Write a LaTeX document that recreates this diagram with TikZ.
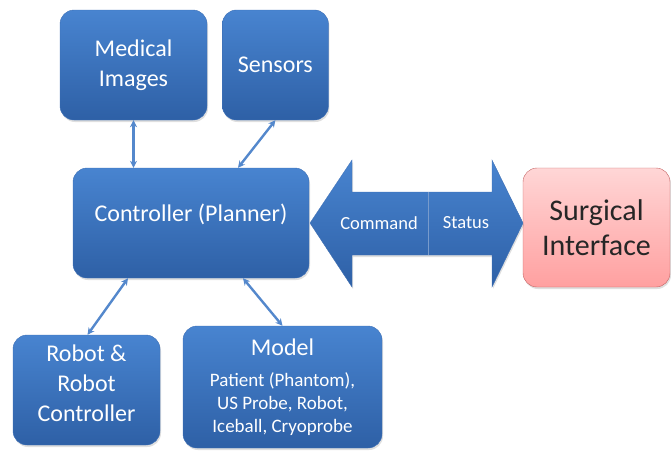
\documentclass[tikz,border=0pt]{standalone}
\usepackage{fontspec}
\setmainfont{Carlito}
\usetikzlibrary{positioning,arrows.meta,calc,shadows}

\definecolor{boxtop}{RGB}{72,132,208}
\definecolor{boxbot}{RGB}{46,96,166}
\definecolor{boxline}{RGB}{62,112,182}
\definecolor{linkcol}{RGB}{84,136,204}
\definecolor{pinktop}{RGB}{255,214,214}
\definecolor{pinkbot}{RGB}{255,160,160}
\definecolor{pinkline}{RGB}{196,98,98}

\tikzset{
  block/.style={rectangle, rounded corners=14pt, draw=boxline, top color=boxtop,
    bottom color=boxbot, text=white, align=center, font=\fontsize{24}{30}\selectfont,
    drop shadow={opacity=0.25, shadow xshift=1pt, shadow yshift=-2pt}},
  link/.style={{Stealth[length=7pt,width=7pt]}-{Stealth[length=7pt,width=7pt]}, draw=linkcol, line width=2.4pt},
}

\begin{document}
\begin{tikzpicture}[x=1pt, y=-1pt]

    \useasboundingbox (0,0) rectangle (671,450);

    \node (ctrl) [block, minimum width=236pt, minimum height=110pt, text depth=20pt] at (191,223) {Controller (Planner)};
    \node (med) [block, minimum width=147pt, minimum height=110pt] at (133.5,65) {Medical\\Images};
    \node (sens) [block, minimum width=106pt, minimum height=110pt, right=15pt of med] {Sensors};
    \node (robot) [block, minimum width=147pt, minimum height=110pt, text depth=14pt] at (86.5,390) {Robot \&\\Robot\\Controller};
    \node (model) [block, minimum width=199pt, minimum height=122pt, font=\fontsize{19}{23}\selectfont] at (282.5,387)
        {{\fontsize{24}{28}\selectfont Model}\\[8pt]Patient (Phantom),\\US Probe,  Robot,\\Iceball, Cryoprobe};
    \node (surg) [block, minimum width=147pt, minimum height=119pt, draw=pinkline, top color=pinktop,
        bottom color=pinkbot, text={black!85}, font=\fontsize{30}{35}\selectfont] at (596.5,227.5) {Surgical\\Interface};

    % double arrow between controller and interface
    \path[draw=boxline, top color=boxtop, bottom color=boxbot,
        drop shadow={opacity=0.25, shadow xshift=1pt, shadow yshift=-2pt}]
        (310,223) -- (352,160) -- (352,192) -- (492,192) -- (492,160) -- (523,223)
        -- (492,287) -- (492,255) -- (352,255) -- (352,287) -- cycle;
    \draw[boxline!70!white, line width=0.6pt] (428,192) -- (428,255);
    \node (cmd) [text=white, font=\fontsize{18.5}{22}\selectfont] at (379,223) {Command};
    \node (stat) [text=white, font=\fontsize{18.5}{22}\selectfont] at (466,223) {Status};

    \coordinate (c1) at ($(ctrl.north)+(47,0)$);
    \coordinate (c2) at ($(ctrl.south)+(-63,0)$);
    \coordinate (c3) at ($(ctrl.south)+(52,0)$);

    \draw[link] (med.south) -- (med.south |- ctrl.north);
    \draw[link] (sens.south) -- (c1);
    \draw[link] (c2) -- ([xshift=1pt]robot.north);
    \draw[link] (c3) -- (model.north);

\end{tikzpicture}
\end{document}
